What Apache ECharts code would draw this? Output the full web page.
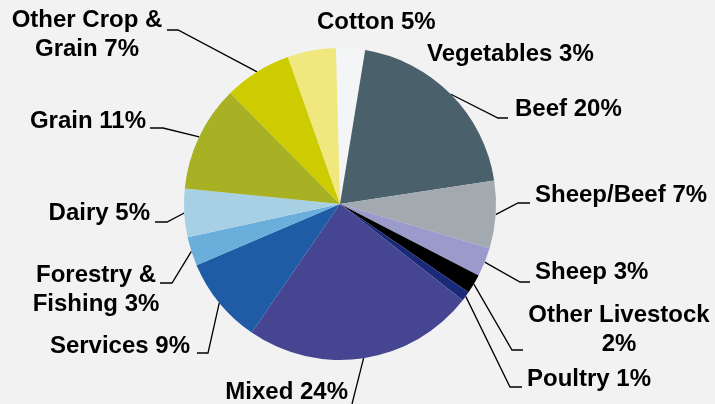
<!DOCTYPE html>
<html><head><meta charset="utf-8">
<script src="https://cdn.jsdelivr.net/npm/echarts@6.0.0/dist/echarts.min.js"></script>
<style>html,body{margin:0;padding:0;background:#f2f2f2}#c{width:715px;height:404px}</style>
</head><body><div id="c"></div>
<script>
const categories = ['Vegetables','Beef','Sheep/Beef','Sheep','Other Livestock','Poultry','Mixed','Services','Forestry & Fishing','Dairy','Grain','Other Crop & Grain','Cotton'];
const labelTexts = ['Vegetables 3%','Beef 20%','Sheep/Beef 7%','Sheep 3%','Other Livestock\n2%','Poultry 1%','Mixed 24%','Services 9%','Forestry &\nFishing 3%','Dairy 5%','Grain 11%','Other Crop &\nGrain 7%','Cotton 5%'];
const shares = [3,20,7,3,2,1,24,9,3,5,11,7,5];
const colors = ['#f4f5f7','#4a606b','#a3aaaf','#9a9acb','#000000','#1a2a78','#454591','#1f5ca5','#6aafdc','#a8d0e4','#a8b023','#cccc00','#f0e87f'];
// label layout: [textX, textY, align, elbowX, lineY, endX]
const labelPos = [
  [427, 54, 'left', null, null, null],
  [515, 109, 'left', 498, 118, 508],
  [535, 195, 'left', 518, 203, 530],
  [535, 272, 'left', 520, 282, 530],
  [619, 330, 'center', 512, 350, 523],
  [527, 379, 'left', 510, 387, 522],
  [348, 392, 'right', 352, 404, 352],
  [190, 346, 'right', 208, 353, 197],
  [96, 290, 'center', 172, 283, 160],
  [150, 213, 'right', 167, 222, 155],
  [146, 121, 'right', 163, 128, 150],
  [87, 35, 'center', 178, 30, 167],
  [317, 22, 'left', null, null, null]
];
const chart = echarts.init(document.getElementById('c'), null, {renderer:'canvas'});
chart.setOption({
  backgroundColor: '#f2f2f2',
  animation: false,
  series: [{
    type: 'pie',
    center: [340, 204],
    radius: 156,
    startAngle: 91.5,
    clockwise: true,
    avoidLabelOverlap: false,
    itemStyle: { borderWidth: 0 },
    label: {
      show: true, position: 'outside', overflow: 'none',
      fontFamily: '"Liberation Sans", Arial, sans-serif', fontWeight: 'bold', fontSize: 24,
      lineHeight: 29, color: '#000',
      formatter: p => labelTexts[p.dataIndex]
    },
    labelLine: { show: true, length: 10, length2: 10, lineStyle: { color: '#000', width: 1.3 } },
    labelLayout: function (p) {
      const L = labelPos[p.dataIndex];
      const o = { x: L[0], y: L[1], align: L[2], verticalAlign: 'middle' };
      if (L[3] != null && p.labelLinePoints) {
        o.labelLinePoints = [p.labelLinePoints[0], [L[3], L[4]], [L[5], L[4]]];
      }
      return o;
    },
    emphasis: { disabled: true },
    data: categories.map((c, i) => ({
      name: c, value: shares[i],
      itemStyle: { color: colors[i] },
      labelLine: { show: labelPos[i][3] != null }
    }))
  }]
});
</script></body></html>
